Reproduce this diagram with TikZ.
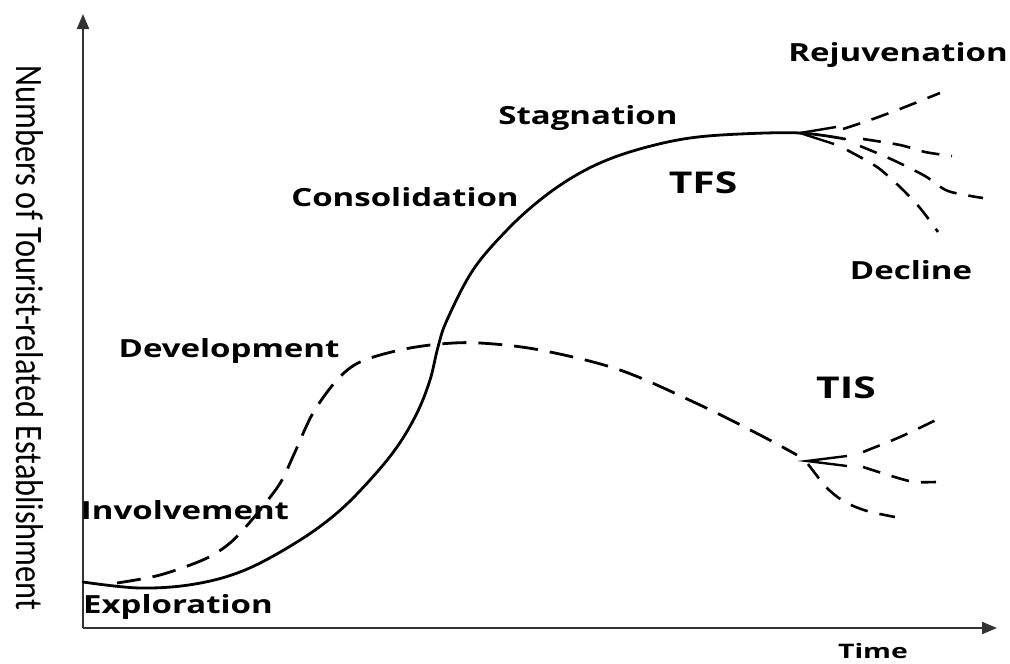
\documentclass[tikz,border=0pt]{standalone}
\usepackage{fontspec}
\setmainfont{Open Sans}
\newfontfamily\axisfont{Carlito}
\usetikzlibrary{arrows.meta}
\begin{document}
\begin{tikzpicture}[x=1pt,y=-1pt,
  lbl/.style={font=\fontsize{25}{27}\selectfont\bfseries, inner sep=0pt, xscale=1.32},
  big/.style={font=\fontsize{30}{32}\selectfont\bfseries, inner sep=0pt, xscale=1.36},
  axisline/.style={line width=2pt, draw=black!80, -{Triangle[length=15pt,width=12pt]}},
  curve/.style={line width=2.8pt, line cap=round},
  dcurve/.style={line width=2.8pt, dash pattern=on 24pt off 12pt},
  branch/.style={line width=2.6pt, dash pattern=on 18pt off 12pt},
  tip/.style={line width=2.4pt, line join=miter}]
\useasboundingbox (0,0) rectangle (1010,664);
% axes
\coordinate (O) at (83,628);
\coordinate (Ytop) at (83,14);
\coordinate (Xend) at (997,628);
\draw[axisline] (O) -- (Ytop);
\draw[axisline] (O) -- (Xend);
% axis labels
\node[rotate=-90, inner sep=0pt] (ylab) at (30,338) {\resizebox{545pt}{27pt}{\axisfont Numbers of Tourist-related Establishment}};
\node[inner sep=0pt, font=\fontsize{20}{22}\selectfont\bfseries, xscale=1.42] (time) at (873,651) {Time};
% stage labels
\node[lbl] (rej) at (898,55) {Rejuvenation};
\node[lbl] (stag) at (588,118) {Stagnation};
\node[lbl] (cons) at (405,197) {Consolidation};
\node[big] (tfs) at (703,183) {TFS};
\node[lbl] (dec) at (911,270) {Decline};
\node[lbl] (dev) at (229,351) {Development};
\node[big] (tis) at (846,388) {TIS};
\node[lbl] (inv) at (185,510) {Involvement};
\node[lbl] (exp) at (178,607) {Exploration};
% TFS curve
\coordinate (tfsJ) at (800,133);
\draw[curve] plot[smooth, tension=0.6] coordinates {(83,582) (140,588) (195,584) (245,570) (297,542) (337,513) (370,480) (397,447) (417,413) (430,380) (438,347) (447,320) (473,270) (507,230) (540,200) (573,177) (607,160) (647,147) (690,138) (740,134) (800,133) (845,139)};
\draw[tip] (836,127) -- (tfsJ) -- (834,144);
% TFS branches
\draw[branch] plot[smooth] coordinates {(843,129) (873,119) (905,107) (940,93)};
\draw[branch] plot[smooth] coordinates {(863,139) (900,145) (925,152) (952,156)};
\draw[branch] plot[smooth] coordinates {(860,146) (893,160) (925,176) (948,191) (983,198)};
\draw[branch] plot[smooth] coordinates {(847,150) (877,167) (900,187) (920,208) (938,232)};
% TIS curve
\coordinate (tisJ) at (807,461);
\draw[dcurve] plot[smooth, tension=0.55] coordinates {(117,583) (160,575) (205,559) (230,543) (250,522) (268,500) (282,480) (295,452) (313,413) (337,380) (360,362) (400,350) (440,344) (480,343) (540,350) (620,370) (700,405) (760,435) (797,455)};
\draw[tip] (847,456) -- (tisJ) -- (847,466);
% TIS branches
\draw[branch] plot[smooth] coordinates {(863,452) (900,437) (936,420)};
\draw[branch] plot[smooth] coordinates {(863,467) (898,478) (915,482) (936,482)};
\draw[branch] plot[smooth] coordinates {(808,464) (827,488) (845,502) (867,511) (895,517)};
\end{tikzpicture}
\end{document}
